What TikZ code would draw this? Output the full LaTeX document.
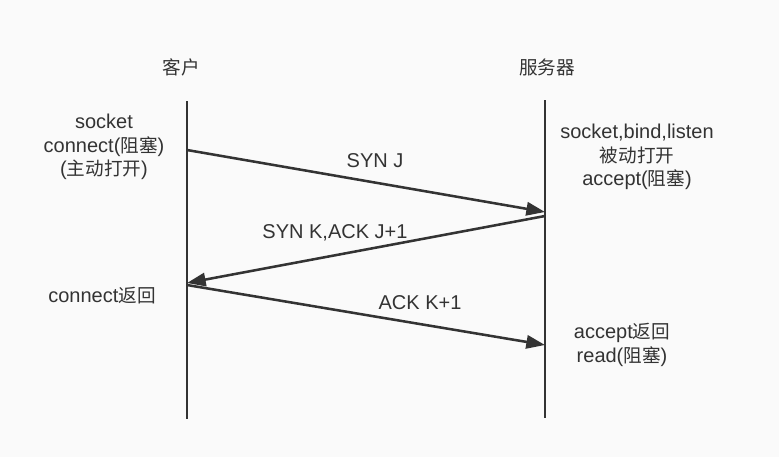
\documentclass[tikz,border=0pt]{standalone}
\usepackage{fontspec}
\setmainfont{Liberation Sans}
\newfontfamily\cjk[Scale=0.93]{Noto Sans CJK SC}
\usetikzlibrary{arrows.meta}
\definecolor{bg}{HTML}{FAFAFA}
\definecolor{ink}{HTML}{333333}
\tikzset{
  lifeline/.style={draw=ink, line width=2.2pt},
  msg/.style={draw=ink, line width=1.9pt, -{Triangle[length=14pt,width=10pt]}},
  lbl/.style={text=ink, font=\fontsize{15}{17.7}\selectfont, align=center, inner sep=0pt},
}
\begin{document}
\begin{tikzpicture}[x=0.75pt,y=-0.75pt]
\fill[bg] (0,0) rectangle (779,457);
\useasboundingbox (0,0) rectangle (779,457);
% lifelines
\coordinate (ct) at (187,101);
\coordinate (cb) at (187,419);
\coordinate (st) at (545,100);
\coordinate (sb) at (545,418);
\draw[lifeline] (ct) -- (cb);
\draw[lifeline] (st) -- (sb);
% titles
\node[lbl] (client) at (181,67) {{\cjk 客户}};
\node[lbl] (server) at (547,67) {{\cjk 服务器}};
% side texts
\node[lbl] (ctxt) at (104,147) {socket\\connect({\cjk 阻塞})\\({\cjk 主动打开})};
\node[lbl] (stxt) at (637,157) {socket,bind,listen\\{\cjk 被动打开}\\accept({\cjk 阻塞})};
\node[lbl] (cret) at (102,296) {connect{\cjk 返回}};
\node[lbl] (sret) at (622,345) {accept{\cjk 返回}\\read({\cjk 阻塞})};
% message endpoints
\coordinate (m1s) at (187,150);
\coordinate (m1e) at (545,212);
\coordinate (m2s) at (545,216);
\coordinate (m2e) at (187,283);
\coordinate (m3s) at (187,285);
\coordinate (m3e) at (545,345);
\draw[msg] (m1s) -- (m1e);
\draw[msg] (m2s) -- (m2e);
\draw[msg] (m3s) -- (m3e);
% message labels
\node[lbl] (l1) at (375,161) {SYN J};
\node[lbl] (l2) at (335,233) {SYN K,ACK J+1};
\node[lbl] (l3) at (420,303) {ACK K+1};
\end{tikzpicture}
\end{document}
